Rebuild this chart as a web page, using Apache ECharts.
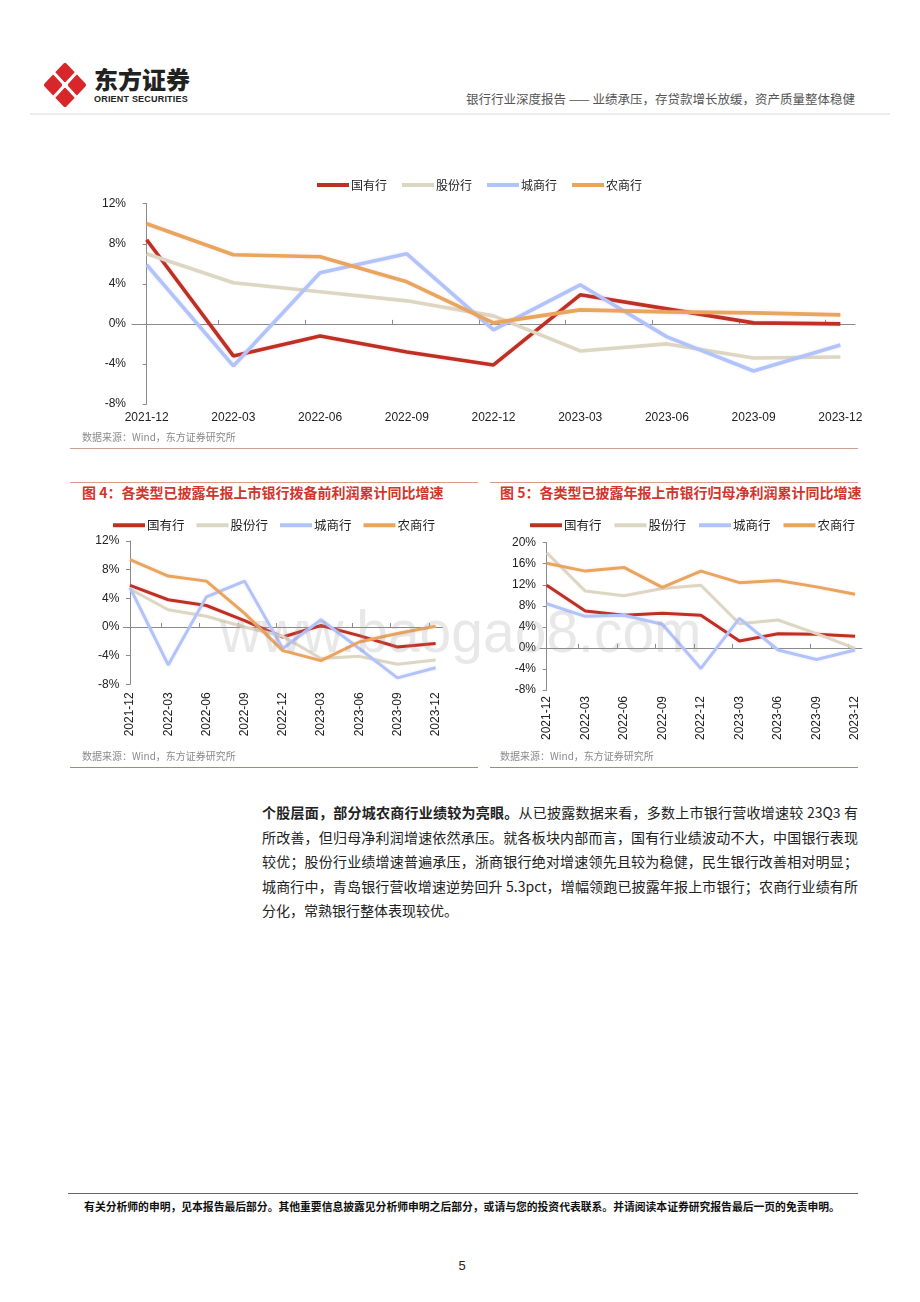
<!DOCTYPE html>
<html><head><meta charset="utf-8">
<script src="https://cdn.jsdelivr.net/npm/echarts@6.0.0/dist/echarts.min.js"></script>
<style>
html,body{margin:0;padding:0;background:#fff;}
#page{position:relative;width:920px;height:1302px;overflow:hidden;font-family:"Noto Sans CJK SC","Noto Sans",sans-serif;background:#fff;}
.a{position:absolute;white-space:nowrap;}
.ln{position:absolute;height:1px;}
.src{font-size:10px;color:#8a8a8a;line-height:12px;}
.ttl{font-size:14px;font-weight:700;color:#D2352B;line-height:16px;}
#para{position:absolute;left:262px;top:800px;width:596px;font-size:14px;line-height:24.5px;color:#222;}
#para div{white-space:nowrap;text-align:justify;text-align-last:justify;width:596px;}
#para div.last{text-align-last:left;}
#wm{position:absolute;left:220px;top:602px;font-family:"Liberation Sans",Arial,sans-serif;font-size:60px;line-height:60px;color:rgba(150,150,150,0.22);transform:scaleX(0.95);transform-origin:left top;pointer-events:none;z-index:10;white-space:nowrap;}
</style></head><body>
<div id="page">
  <svg class="a" style="left:44px;top:63px" width="42" height="44" viewBox="0 0 42 44">
    <path d="M21 2 L40 22 L21 42 L2 22 Z" fill="#D8272A" stroke="#D8272A" stroke-width="4" stroke-linejoin="round"/>
    <path d="M9 9 Q21 22 33 35" stroke="#fff" stroke-width="3.2" fill="none"/>
    <path d="M33 9 Q21 22 9 35" stroke="#fff" stroke-width="3.2" fill="none"/>
    <circle cx="21" cy="22" r="3" fill="#fff"/>
  </svg>
  <div class="a" style="left:94px;top:66px;font-size:24px;font-weight:900;color:#222;line-height:26px;">东方证券</div>
  <div class="a" style="left:94px;top:94px;font-size:9px;font-weight:700;color:#222;line-height:10px;font-family:'Liberation Sans',Arial,sans-serif;letter-spacing:0.2px;">ORIENT SECURITIES</div>
  <div class="a" style="right:65px;top:92px;font-size:12.5px;color:#555;line-height:14px;">银行行业深度报告 —— 业绩承压，存贷款增长放缓，资产质量整体稳健</div>
  <div class="ln" style="left:30px;top:113px;width:860px;height:2px;background:#ececec;"></div>

  <div id="c1" class="a" style="left:0;top:150px;width:920px;height:290px;"></div>
  <div class="a src" style="left:82px;top:431px;">数据来源：Wind，东方证券研究所</div>
  <div class="ln" style="left:70px;top:448px;width:788px;background:#c9a094;"></div>

  <div class="ln" style="left:70px;top:482px;width:408px;background:#dc9a8c;"></div>
  <div class="ln" style="left:490px;top:482px;width:368px;background:#dc9a8c;"></div>
  <div class="a ttl" style="left:82px;top:484px;">图 4：各类型已披露年报上市银行拨备前利润累计同比增速</div>
  <div class="a ttl" style="left:500px;top:484px;">图 5：各类型已披露年报上市银行归母净利润累计同比增速</div>

  <div id="c4" class="a" style="left:70px;top:505px;width:410px;height:250px;"></div>
  <div id="c5" class="a" style="left:490px;top:505px;width:410px;height:250px;"></div>
  <div class="a src" style="left:82px;top:750px;">数据来源：Wind，东方证券研究所</div>
  <div class="a src" style="left:500px;top:750px;">数据来源：Wind，东方证券研究所</div>
  <div class="ln" style="left:70px;top:767px;width:408px;background:#a88a70;"></div>
  <div class="ln" style="left:490px;top:767px;width:368px;background:#a88a70;"></div>

  <div id="wm">www.baogao8.com</div>

  <div id="para">
    <div><b>个股层面，部分城农商行业绩较为亮眼。</b>从已披露数据来看，多数上市银行营收增速较 23Q3 有</div>
    <div>所改善，但归母净利润增速依然承压。就各板块内部而言，国有行业绩波动不大，中国银行表现</div>
    <div>较优；股份行业绩增速普遍承压，浙商银行绝对增速领先且较为稳健，民生银行改善相对明显；</div>
    <div>城商行中，青岛银行营收增速逆势回升 5.3pct，增幅领跑已披露年报上市银行；农商行业绩有所</div>
    <div class="last">分化，常熟银行整体表现较优。</div>
  </div>

  <div class="ln" style="left:68px;top:1193px;width:790px;background:#666;"></div>
  <div class="a" style="left:62px;top:1199px;width:800px;text-align:center;font-size:10.8px;font-weight:700;color:#111;line-height:14px;">有关分析师的申明，见本报告最后部分。其他重要信息披露见分析师申明之后部分，或请与您的投资代表联系。并请阅读本证券研究报告最后一页的免责申明。</div>
  <div class="a" style="left:442px;top:1258px;width:40px;text-align:center;font-size:13px;color:#222;line-height:16px;font-family:'Liberation Sans',Arial,sans-serif;">5</div>
</div>
<script>
// ---- data ----
const categories = ['2021-12','2022-03','2022-06','2022-09','2022-12','2023-03','2023-06','2023-09','2023-12'];
const seriesNames = ['国有行','股份行','城商行','农商行'];
const yTicks1 = [-8, 12, 4];   // min, max, interval
const yTicks45 = [-8, 12, 4];
const yTicks5 = [-8, 20, 4];

// top chart
const fig1State = [8.4, -3.2, -1.2, -2.8, -4.1, 2.9, 1.5, 0.1, 0.0];
const fig1Joint = [7.0, 4.1, 3.2, 2.3, 0.8, -2.7, -2.0, -3.4, -3.3];
const fig1City  = [5.9, -4.2, 5.1, 7.0, -0.6, 3.9, -1.3, -4.7, -2.1];
const fig1Rural = [10.0, 6.9, 6.7, 4.2, 0.1, 1.4, 1.2, 1.1, 0.9];

// fig 4: pre-provision profit
const fig4State = [5.8, 3.8, 3.0, 0.9, -1.4, 0.2, -1.2, -2.8, -2.3];
const fig4Joint = [5.3, 2.4, 1.5, 0.0, -1.3, -4.4, -4.1, -5.2, -4.6];
const fig4City  = [5.5, -5.3, 4.2, 6.4, -3.0, 1.0, -3.0, -7.1, -5.7];
const fig4Rural = [9.4, 7.1, 6.4, 1.9, -3.3, -4.7, -2.1, -0.9, 0.1];

// fig 5: net profit attributable
const fig5State = [11.9, 7.0, 6.2, 6.6, 6.2, 1.3, 2.7, 2.6, 2.2];
const fig5Joint = [18.1, 10.8, 9.9, 11.3, 11.9, 4.6, 5.3, 2.7, -0.1];
const fig5City  = [8.4, 6.0, 6.2, 4.5, -3.9, 5.6, -0.4, -2.2, -0.4];
const fig5Rural = [16.1, 14.6, 15.3, 11.5, 14.6, 12.4, 12.8, 11.6, 10.2];

const colors = ['#BC3121', '#DDD6C2', '#B0C4FA', '#E8A55C'];
const glow = ['rgba(255,120,170,0.35)','rgba(230,220,200,0.2)','rgba(200,170,255,0.3)','rgba(255,150,170,0.3)'];
const numFont = '"Liberation Sans", Arial, sans-serif';
const cjkFont = '"Noto Sans CJK SC", sans-serif';

function build(el, cfg) {
  const chart = echarts.init(document.getElementById(el), null, {renderer: 'canvas'});
  const xMin = -cfg.pad, xMax = categories.length - 1 + cfg.pad;
  const labelVals = categories.map((c, i) => i);
  const tickVals = categories.slice(1).map((c, i) => -cfg.pad + i + 1);
  const series = cfg.data.map((arr, k) => ({
    name: seriesNames[k], type: 'line', xAxisIndex: 0, yAxisIndex: 0,
    data: arr.map((v, i) => [i, v]),
    symbol: 'none', showSymbol: false, smooth: false,
    lineStyle: {width: cfg.lw, color: colors[k], shadowColor: glow[k], shadowBlur: 3},
    itemStyle: {color: colors[k]},
    emphasis: {disabled: true}, silent: true, z: 2 + k
  }));
  chart.setOption({
    animation: false,
    legend: {
      data: seriesNames, left: cfg.legLeft, top: cfg.legTop, padding: 0,
      icon: 'rect', itemWidth: cfg.legIconW, itemHeight: 4, itemGap: cfg.legGap,
      textStyle: {fontSize: cfg.legFont, color: '#222', fontFamily: cjkFont, padding: [0, 0, 0, -3]},
      selectedMode: false
    },
    grid: {left: cfg.left, right: cfg.right, top: cfg.top, bottom: cfg.bottom, containLabel: false},
    xAxis: [
      {
        type: 'value', min: xMin, max: xMax, position: 'bottom',
        axisLine: {show: false, onZero: false}, axisTick: {show: false}, splitLine: {show: false},
        axisLabel: {
          customValues: labelVals,
          formatter: v => categories[Math.round(v)],
          rotate: cfg.rotate, margin: cfg.xMargin, fontSize: cfg.xFont, color: '#222', fontFamily: numFont
        }
      },
      {
        type: 'value', min: xMin, max: xMax, position: 'bottom',
        axisLine: {show: true, onZero: true, lineStyle: {color: '#8a8a8a', width: 1}},
        axisTick: {show: true, inside: true, length: 4, customValues: tickVals, lineStyle: {color: '#8a8a8a'}},
        axisLabel: {show: false}, splitLine: {show: false}
      }
    ],
    yAxis: {
      type: 'value', min: cfg.y[0], max: cfg.y[1], interval: cfg.y[2],
      axisLine: {show: true, lineStyle: {color: '#8a8a8a', width: 1}},
      axisTick: {show: true, length: 4, lineStyle: {color: '#8a8a8a'}},
      splitLine: {show: false},
      axisLabel: {formatter: '{value}%', fontSize: cfg.yFont, color: '#222', margin: cfg.yMargin, fontFamily: numFont}
    },
    series: series
  });
}

build('c1', {
  data: [fig1State, fig1Joint, fig1City, fig1Rural], y: yTicks1, pad: 0.169,
  left: 132, right: 65, top: 53.7, bottom: 36, lw: 3.6,
  rotate: 0, xMargin: 8, xFont: 12, yFont: 12, yMargin: 6,
  legLeft: 317, legTop: 29, legIconW: 32, legGap: 15, legFont: 12
});
build('c4', {
  data: [fig4State, fig4Joint, fig4City, fig4Rural], y: yTicks45, pad: 0.175,
  left: 53.3, right: 37.7, top: 36, bottom: 70.7, lw: 3,
  rotate: 90, xMargin: 8, xFont: 12, yFont: 12, yMargin: 4,
  legLeft: 43, legTop: 14, legIconW: 32, legGap: 12, legFont: 12.5
});
build('c5', {
  data: [fig5State, fig5Joint, fig5City, fig5Rural], y: yTicks5, pad: 0.174,
  left: 50, right: 38.2, top: 37.7, bottom: 65, lw: 3,
  rotate: 90, xMargin: 6, xFont: 12, yFont: 12, yMargin: 4,
  legLeft: 40, legTop: 14, legIconW: 32, legGap: 13, legFont: 12.5
});
</script>
</body></html>
